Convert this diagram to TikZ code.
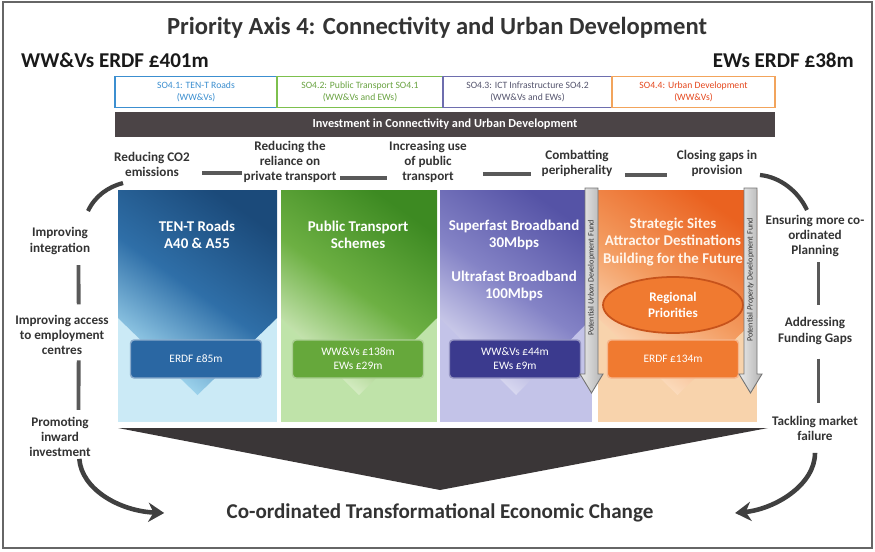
\documentclass[tikz,border=0pt]{standalone}
\usepackage{fontspec}
\setmainfont{Carlito}
\usepackage{tikz}
\usetikzlibrary{shapes.geometric, arrows.meta, positioning}

\definecolor{soblue}{HTML}{3C8FD0}
\definecolor{sogreen}{HTML}{7DC04E}
\definecolor{sopurple}{HTML}{6E6EAE}
\definecolor{soorange}{HTML}{F2A45C}
\definecolor{sored}{HTML}{E5481E}
\definecolor{sotext}{HTML}{55556E}
\definecolor{barfill}{HTML}{4B4446}
\definecolor{p1dark}{HTML}{1B4A7A}
\definecolor{p1mid}{HTML}{2F6FA8}
\definecolor{p1pale}{HTML}{A8DDF3}
\definecolor{p1light}{HTML}{CBEAF6}
\definecolor{p1box}{HTML}{2A67A3}
\definecolor{p2dark}{HTML}{3D8A22}
\definecolor{p2mid}{HTML}{6DB043}
\definecolor{p2pale}{HTML}{DFF2CF}
\definecolor{p2light}{HTML}{BFE3A9}
\definecolor{p2box}{HTML}{66A83B}
\definecolor{p3dark}{HTML}{5553A6}
\definecolor{p3mid}{HTML}{8483C6}
\definecolor{p3pale}{HTML}{E0E0F4}
\definecolor{p3light}{HTML}{C3C3E8}
\definecolor{p3box}{HTML}{3B3A8E}
\definecolor{p4dark}{HTML}{EA6220}
\definecolor{p4mid}{HTML}{F39A5E}
\definecolor{p4pale}{HTML}{FCE2C6}
\definecolor{p4light}{HTML}{F8D3AC}
\definecolor{p4box}{HTML}{F07A30}
\definecolor{trifill}{HTML}{3A3637}
\definecolor{inktext}{HTML}{333333}

\begin{document}
\begin{tikzpicture}[x = 0.02cm, y = -0.02cm,
  lbl/.style = {align = center, font = \bfseries\fontsize{7.5}{8.6}\selectfont, text = inktext, inner sep = 1pt},
  sobox/.style = {draw, line width = 0.6pt, fill = white, align = center, minimum height = 0.62cm, inner sep = 0pt, font = \fontsize{5.5}{6.8}\selectfont},
  ptitle/.style = {align = center, text = white, font = \bfseries\fontsize{8.5}{10}\selectfont},
  fundbox/.style = {draw, line width = 0.8pt, rounded corners = 2pt, minimum width = 2.62cm, minimum height = 0.76cm, align = center, text = white, font = \fontsize{6.5}{8}\selectfont},
  hbar/.style = {line width = 2.2pt, draw = black!65},
  arcline/.style = {line width = 2.4pt, draw = black!75},
  bigarrow/.style = {line width = 2.6pt, draw = black!75, -{Stealth[length = 9pt, width = 11pt]}},
  fundarrow/.style = {draw = black!55, line width = 0.5pt, left color = black!8, right color = black!30},
  fundtext/.style = {rotate = 90, font = \fontsize{4.6}{5}\selectfont, text = black!80, inner sep = 0pt}
]

\useasboundingbox (0, 0) rectangle (875, 551);
\draw[black!60, line width = 0.8pt] (3, 2) rectangle (872, 548);

% headings
\node[font = \bfseries\fontsize{14}{16}\selectfont, text = inktext] (title) at (437, 28)
  {Priority Axis 4: Connectivity and Urban Development};
\node[font = \bfseries\fontsize{12}{14}\selectfont, text = black!90, anchor = west] (wwv) at (15, 60) {WW\&Vs ERDF £401m};
\node[font = \bfseries\fontsize{12}{14}\selectfont, text = black!90, anchor = east] (ews) at (860, 60) {EWs ERDF £38m};

% specific objectives
\node[sobox, draw = soblue, text = soblue, minimum width = 3.24cm] (so1) at (196, 92) {SO4.1: TEN-T Roads\\(WW\&Vs)};
\node[sobox, draw = sogreen, text = sogreen!85!black, minimum width = 3.32cm] (so2) at (360, 92) {SO4.2: Public Transport SO4.1\\(WW\&Vs and EWs)};
\node[sobox, draw = sopurple, text = sotext, minimum width = 3.38cm] (so3) at (527.5, 92) {SO4.3: ICT Infrastructure SO4.2\\(WW\&Vs and EWs)};
\node[sobox, draw = soorange, text = sored, minimum width = 3.26cm] (so4) at (693.5, 92) {SO4.4: Urban Development\\(WW\&Vs)};
\node[fill = barfill, text = white, minimum width = 13.2cm, minimum height = 0.5cm, inner sep = 0pt,
  font = \bfseries\fontsize{7}{8}\selectfont] (invest) at (445, 124.5) {Investment in Connectivity and Urban Development};

% benefits along the top
\node[lbl] (co2) at (152, 164) {Reducing CO2\\emissions};
\node[lbl] (rel) at (290, 162) {Reducing the\\reliance on\\private transport};
\node[lbl] (pub) at (428, 162) {Increasing use\\of public\\transport};
\node[lbl] (peri) at (577, 163) {Combatting\\peripherality};
\node[lbl] (prov) at (717, 163) {Closing gaps in\\provision};
\draw[hbar] ([xshift = 6pt, yshift = 3pt]co2.south east) -- +(40, 0);
\draw[hbar] ([xshift = 1pt, yshift = 4pt]rel.south east) -- +(47, 0);
\draw[hbar] ([xshift = 8pt, yshift = 6pt]pub.south east) -- +(48, 0);
\draw[hbar] ([xshift = 6pt, yshift = 2pt]peri.south east) -- +(42, 0);

% left side
\node[lbl] (integ) at (60, 241) {Improving\\integration};
\node[lbl] (access) at (62, 335) {Improving access\\to employment\\centres};
\node[lbl] (inward) at (60, 437) {Promoting\\inward\\investment};
\draw[hbar] ([xshift = 10.5pt, yshift = -5pt]integ.south) -- ([xshift = 9.5pt, yshift = 5pt]access.north);
\draw[hbar] ([xshift = 9.5pt, yshift = -2pt]access.south) -- ([xshift = 10.5pt, yshift = 3pt]inward.north);

% right side
\node[lbl] (plan) at (815, 236) {Ensuring more co-\\ordinated\\Planning};
\node[lbl] (gaps) at (815, 331) {Addressing\\Funding Gaps};
\node[lbl] (market) at (815, 428) {Tackling market\\failure};
\draw[hbar] ([xshift = 2pt, yshift = -2pt]plan.south) -- ([xshift = 2pt, yshift = 6pt]gaps.north);
\draw[hbar] ([xshift = 2pt, yshift = -7pt]gaps.south) -- ([xshift = 2pt, yshift = 6pt]market.north);

% panel 1
\fill[p1light] (118, 190) rectangle (277, 422);
\shade[top color = p1dark, bottom color = p1pale, middle color = p1mid, shading angle = -35]
  (118, 190) -- (277, 190) -- (277, 318) -- (197.5, 395) -- (118, 318) -- cycle;
\node[ptitle] (roads) at (197, 235) {TEN-T Roads\\A40 \& A55};
\node[fundbox, fill = p1box, draw = p1box!55!white] (erdf85) at (196, 359) {ERDF £85m};

% panel 2
\fill[p2light] (281, 190) rectangle (437, 422);
\shade[top color = p2dark, bottom color = p2pale, middle color = p2mid, shading angle = -35]
  (281, 190) -- (437, 190) -- (437, 318) -- (359, 395) -- (281, 318) -- cycle;
\node[ptitle] (schemes) at (358, 235) {Public Transport\\Schemes};
\node[fundbox, fill = p2box, draw = p2box!55!white] (ww138) at (358, 359) {WW\&Vs £138m\\EWs £29m};

% panel 3
\fill[p3light] (440, 190) rectangle (592, 422);
\shade[top color = p3dark, bottom color = p3pale, middle color = p3mid, shading angle = -35]
  (440, 190) -- (592, 190) -- (592, 318) -- (516, 395) -- (440, 318) -- cycle;
\node[ptitle] (superfast) at (514, 235) {Superfast Broadband\\30Mbps};
\node[ptitle] (ultrafast) at (514, 286) {Ultrafast Broadband\\100Mbps};
\node[fundbox, fill = p3box, draw = p3box!55!white] (ww44) at (515, 359) {WW\&Vs £44m\\EWs £9m};

% panel 4
\fill[p4light] (598, 190) rectangle (757, 422);
\shade[top color = p4dark, bottom color = p4pale, middle color = p4mid, shading angle = -35]
  (598, 190) -- (757, 190) -- (757, 318) -- (677.5, 395) -- (598, 318) -- cycle;
\node[ptitle, text = white!92!orange] (sites) at (673, 242) {Strategic Sites\\Attractor Destinations\\Building for the Future};
\node[ellipse, draw = p4dark!85!black, line width = 1pt, fill = p4box, minimum width = 2.8cm, minimum height = 1.12cm,
  align = center, text = white, font = \bfseries\fontsize{7.5}{9}\selectfont] (regional) at (673, 305) {Regional\\Priorities};
\node[fundbox, fill = p4box, draw = p4box!55!white] (erdf134) at (673, 359) {ERDF £134m};

% fund arrows
\draw[fundarrow] (585, 188) -- (598, 188) -- (598, 374) -- (603, 374) -- (591.5, 393) -- (580, 374) -- (585, 374) -- cycle;
\node[fundtext] (urbfund) at (591.5, 278) {Potential \textit{Urban} Development Fund};
\draw[fundarrow] (744, 188) -- (757, 188) -- (757, 374) -- (762, 374) -- (750.5, 393) -- (739, 374) -- (744, 374) -- cycle;
\node[fundtext] (propfund) at (750.5, 280) {Potential \textit{Property} Development Fund};

% funnel and result
\fill[trifill] (118, 428) -- (768, 428) -- (440, 490) -- cycle;
\node[font = \bfseries\fontsize{12}{14}\selectfont, text = inktext] (change) at (440, 513)
  {Co-ordinated Transformational Economic Change};

% cycle arcs
\coordinate (arcTL) at (88, 211);
\coordinate (arcTLend) at (123, 183);
\coordinate (arcTR) at (760, 175);
\coordinate (arcTRend) at (807, 210);
\draw[arcline] (arcTL) .. controls (95, 196) and (108, 187) .. (arcTLend);
\draw[arcline] (arcTR) .. controls (780, 177) and (798, 191) .. (arcTRend);
\draw[bigarrow] ([xshift = 11pt]inward.south) .. controls +(2, 30) and +(-45, -2) .. ([xshift = -32pt]change.west);
\draw[bigarrow] ([yshift = -6pt]market.south) .. controls +(0, 32) and +(40, -4) .. ([xshift = 43pt]change.east);

\end{tikzpicture}
\end{document}
